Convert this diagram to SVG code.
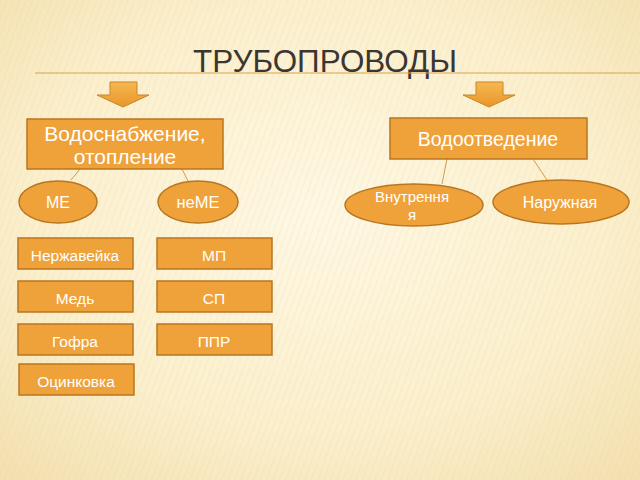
<svg xmlns="http://www.w3.org/2000/svg" width="640" height="480" viewBox="0 0 640 480">
<defs>
<radialGradient id="bg" cx="0.5" cy="0.45" r="0.75">
<stop offset="0" stop-color="#fef8e4"/>
<stop offset="0.6" stop-color="#fbefcc"/>
<stop offset="1" stop-color="#f3dfae"/>
</radialGradient>
<pattern id="stripes" width="6" height="6" patternUnits="userSpaceOnUse" patternTransform="rotate(20)">
<line x1="0" y1="0" x2="0" y2="6" stroke="#e6cb92" stroke-width="1" opacity="0.4"/>
</pattern>
<linearGradient id="arrowg" x1="0" y1="0" x2="0" y2="1">
<stop offset="0" stop-color="#f7b850"/>
<stop offset="1" stop-color="#e8962a"/>
</linearGradient>
</defs>
<style>
.box{fill:#f0a23a;stroke:#b97621;stroke-width:1.5}
.ell{fill:#f0a23a;stroke:#b97621;stroke-width:1.5}
.t{font-family:"Liberation Sans",Arial,sans-serif;fill:#ffffff;text-anchor:middle}
.s{font-size:15.5px}
.c{stroke:#d69a48;stroke-width:1;fill:none}
.arr{fill:url(#arrowg);stroke:#c9842a;stroke-width:1}
</style>
<rect width="640" height="480" fill="url(#bg)"/>
<rect width="640" height="480" fill="url(#stripes)"/>
<g id="title">
<text x="325" y="72" font-family="Liberation Sans Narrow,Liberation Sans,Arial,sans-serif" font-size="31" fill="#3b3631" text-anchor="middle" textLength="264" lengthAdjust="spacingAndGlyphs">ТРУБОПРОВОДЫ</text>
<line x1="35" y1="73" x2="640" y2="73" stroke="#dca24a" stroke-width="1.2"/>
</g>
<g id="arrow-left"><path class="arr" d="M110,82 H137 V95 H149 L123,107 L97,95 H110 Z"/></g>
<g id="arrow-right"><path class="arr" d="M476,82 H503 V95 H515 L489,107 L463,95 H476 Z"/></g>
<g id="connectors">
<line class="c" x1="80" y1="169" x2="71" y2="180"/>
<line class="c" x1="182" y1="169" x2="188" y2="181"/>
<line class="c" x1="447" y1="159" x2="442" y2="184"/>
<line class="c" x1="533" y1="159" x2="547" y2="180"/>
</g>
<g id="n-supply"><rect class="box" x="27" y="119" width="196" height="50"/><text class="t" x="125" y="141" font-size="21">Водоснабжение,</text><text class="t" x="125" y="164" font-size="21">отопление</text></g>
<g id="n-drain"><rect class="box" x="390" y="118" width="197" height="41"/><text class="t" x="488" y="146" font-size="19.5">Водоотведение</text></g>
<g id="n-me"><ellipse class="ell" cx="58" cy="202" rx="39" ry="21"/><text class="t" x="58" y="208" font-size="16">МЕ</text></g>
<g id="n-neme"><ellipse class="ell" cx="198" cy="202" rx="40" ry="21"/><text class="t" x="198" y="208" font-size="16.5">неМЕ</text></g>
<g id="n-inner"><ellipse class="ell" cx="414" cy="205" rx="69" ry="21"/><text class="t" x="412" y="202" font-size="15">Внутрення</text><text class="t" x="412" y="220" font-size="15">я</text></g>
<g id="n-outer"><ellipse class="ell" cx="561" cy="202" rx="68" ry="22"/><text class="t" x="560" y="208" font-size="16">Наружная</text></g>
<g id="n-nerzh"><rect class="box" x="18" y="238" width="115" height="31"/><text class="t s" x="75" y="261">Нержавейка</text></g>
<g id="n-med"><rect class="box" x="18" y="281" width="115" height="31"/><text class="t s" x="75" y="304">Медь</text></g>
<g id="n-gofra"><rect class="box" x="18" y="324" width="115" height="31"/><text class="t s" x="75" y="347">Гофра</text></g>
<g id="n-ocink"><rect class="box" x="19" y="364" width="115" height="31"/><text class="t s" x="76" y="387">Оцинковка</text></g>
<g id="n-mp"><rect class="box" x="157" y="238" width="115" height="31"/><text class="t s" x="214" y="261">МП</text></g>
<g id="n-sp"><rect class="box" x="157" y="281" width="115" height="31"/><text class="t s" x="214" y="304">СП</text></g>
<g id="n-ppr"><rect class="box" x="157" y="324" width="115" height="31"/><text class="t s" x="214" y="347">ППР</text></g>
</svg>
